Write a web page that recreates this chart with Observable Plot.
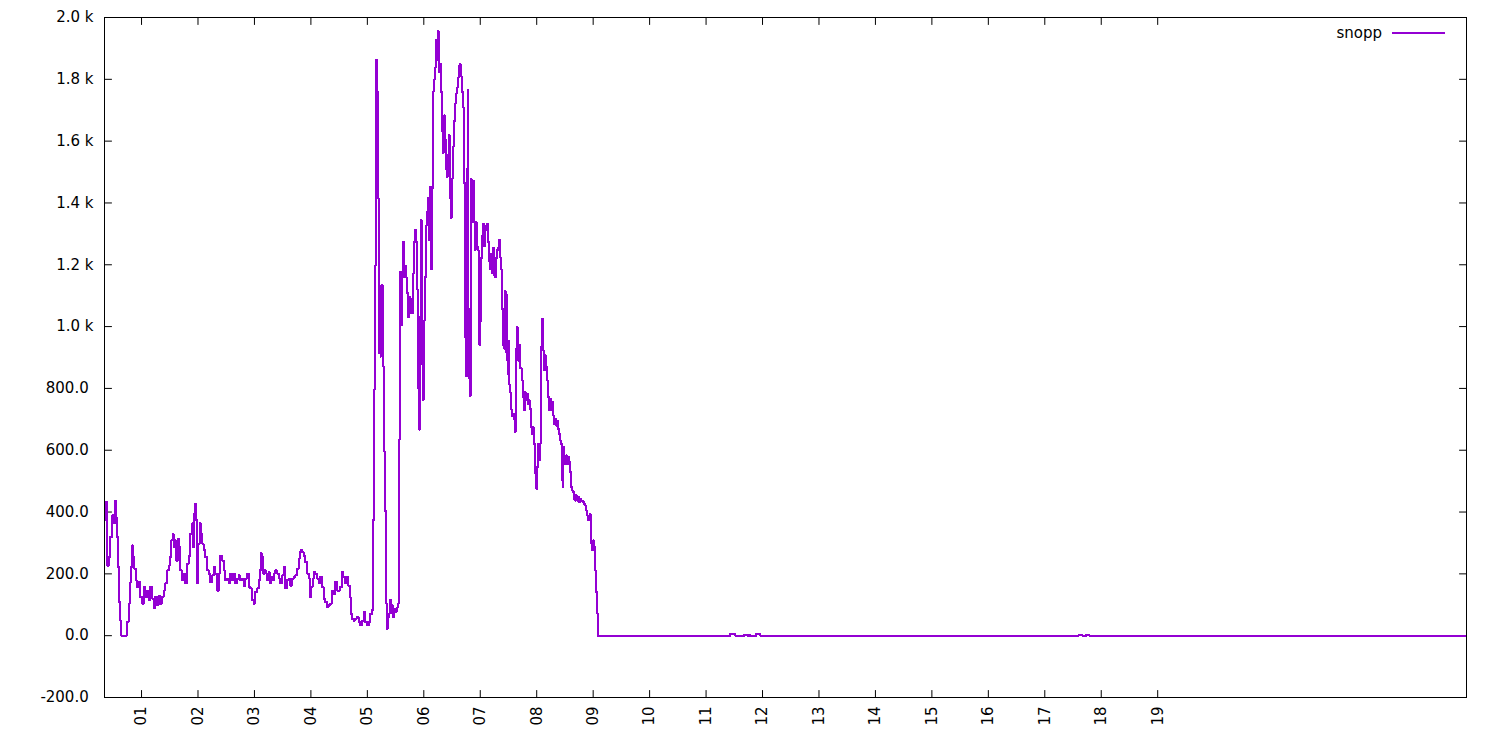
<!DOCTYPE html>
<html>
<head>
<meta charset="utf-8">
<script src="https://cdn.jsdelivr.net/npm/d3@7"></script>
<script src="https://cdn.jsdelivr.net/npm/@observablehq/plot@0.6"></script>
<style>
html, body { margin: 0; padding: 0; background: #fff; }
#chart svg { display: block; }
</style>
</head>
<body>
<div id="chart"></div>
<script>
const seriesName = "snopp";

const hours = [
  0.344,0.356,0.386,0.415,0.445,0.474,0.504,0.533,0.551,0.563,
  0.581,0.604,0.622,0.645,0.740,0.770,0.787,0.805,0.829,0.846,
  0.870,0.894,0.917,0.947,0.976,1.006,1.035,1.065,1.094,1.124,
  1.153,1.183,1.212,1.242,1.272,1.301,1.331,1.360,1.390,1.419,
  1.449,1.478,1.508,1.526,1.549,1.567,1.596,1.614,1.638,1.661,
  1.685,1.715,1.744,1.774,1.803,1.833,1.862,1.892,1.909,1.927,
  1.951,1.968,1.986,2.004,2.027,2.051,2.075,2.098,2.128,2.158,
  2.187,2.217,2.246,2.276,2.305,2.335,2.364,2.394,2.423,2.453,
  2.482,2.512,2.541,2.571,2.600,2.630,2.659,2.689,2.718,2.748,
  2.778,2.807,2.837,2.866,2.896,2.925,2.955,2.984,3.014,3.043,
  3.073,3.091,3.108,3.132,3.156,3.179,3.203,3.227,3.250,3.274,
  3.297,3.321,3.345,3.368,3.398,3.427,3.457,3.486,3.516,3.545,
  3.575,3.604,3.634,3.664,3.693,3.723,3.752,3.782,3.799,3.823,
  3.847,3.870,3.900,3.929,3.959,3.982,4.006,4.030,4.053,4.077,
  4.106,4.136,4.165,4.195,4.224,4.254,4.284,4.313,4.343,4.372,
  4.402,4.431,4.461,4.490,4.520,4.549,4.573,4.597,4.626,4.656,
  4.685,4.703,4.727,4.756,4.786,4.815,4.845,4.874,4.904,4.933,
  4.963,4.992,5.022,5.051,5.081,5.093,5.111,5.128,5.146,5.158,
  5.175,5.187,5.199,5.217,5.234,5.246,5.264,5.276,5.294,5.311,
  5.329,5.341,5.358,5.382,5.400,5.418,5.435,5.453,5.471,5.494,
  5.524,5.548,5.559,5.571,5.583,5.601,5.618,5.636,5.648,5.666,
  5.683,5.701,5.719,5.737,5.754,5.772,5.790,5.807,5.825,5.843,
  5.861,5.878,5.890,5.908,5.925,5.943,5.961,5.979,5.996,6.014,
  6.032,6.049,6.067,6.085,6.103,6.120,6.132,6.144,6.156,6.174,
  6.191,6.209,6.227,6.244,6.262,6.274,6.286,6.298,6.315,6.333,
  6.351,6.368,6.386,6.404,6.422,6.439,6.457,6.475,6.492,6.510,
  6.528,6.546,6.563,6.581,6.599,6.616,6.634,6.652,6.670,6.687,
  6.705,6.723,6.740,6.758,6.776,6.788,6.800,6.811,6.829,6.847,
  6.865,6.882,6.900,6.918,6.935,6.953,6.971,6.983,7.000,7.018,
  7.036,7.054,7.071,7.089,7.107,7.124,7.142,7.160,7.177,7.195,
  7.213,7.231,7.248,7.266,7.284,7.301,7.319,7.337,7.355,7.372,
  7.384,7.402,7.420,7.437,7.455,7.467,7.479,7.491,7.502,7.514,
  7.526,7.538,7.550,7.561,7.579,7.597,7.615,7.626,7.638,7.650,
  7.662,7.674,7.691,7.709,7.733,7.750,7.768,7.786,7.803,7.821,
  7.839,7.857,7.874,7.892,7.910,7.927,7.945,7.963,7.975,7.993,
  8.004,8.022,8.040,8.058,8.069,8.081,8.093,8.105,8.117,8.128,
  8.146,8.164,8.182,8.199,8.217,8.235,8.252,8.270,8.288,8.306,
  8.323,8.341,8.359,8.376,8.394,8.412,8.430,8.441,8.459,8.471,
  8.483,8.500,8.518,8.536,8.554,8.571,8.589,8.607,8.624,8.642,
  8.660,8.678,8.695,8.713,8.731,8.749,8.766,8.784,8.802,8.819,
  8.837,8.855,8.873,8.890,8.908,8.926,8.943,8.955,8.967,8.985,
  9.002,9.020,9.038,9.056,9.073,9.085,11.430,11.518,11.678,11.731,
  11.766,11.784,11.891,11.961,17.596,17.667,17.737,17.791,24.470
];

const snopp = [
  373,432,227,254,319,389,363,437,380,319,
  222,108,49,0,44,104,169,222,292,254,
  217,179,157,173,125,104,157,125,146,114,
  157,120,88,125,98,130,104,125,146,169,
  211,227,254,308,330,286,308,243,314,286,
  211,179,201,169,233,259,330,363,286,395,
  427,373,169,298,363,330,298,276,254,211,
  201,173,195,222,201,146,201,259,243,211,
  179,185,169,201,179,201,169,185,195,179,
  185,162,185,201,157,153,114,104,141,153,
  179,211,266,254,201,211,201,179,205,169,
  189,179,201,211,201,185,169,195,222,153,
  179,185,162,185,189,195,217,249,270,276,
  270,259,238,201,185,125,157,185,205,201,
  185,169,189,157,120,108,92,98,104,146,
  136,173,146,146,157,205,189,169,189,162,
  125,71,55,49,55,60,44,33,49,76,
  44,33,44,71,82,373,795,1197,1530,1862,
  1760,1415,916,1044,903,1133,1133,871,596,404,
  104,21,59,72,117,72,98,59,85,78,
  91,104,635,1031,1178,1006,1159,1274,1159,1197,
  1159,1108,1031,1095,1044,1089,1044,1172,1274,1312,
  1274,1121,801,667,1031,1344,878,763,1018,1159,
  1325,1370,1415,1281,1453,1325,1185,1447,1760,1798,
  1837,1926,1862,1955,1888,1824,1850,1760,1632,1562,
  1683,1606,1510,1485,1555,1619,1415,1351,1478,1581,
  1664,1721,1753,1773,1805,1843,1850,1811,1760,1709,
  1466,967,839,1510,1766,1057,833,775,1478,1338,
  1472,1338,1248,1338,1261,1248,1108,941,1018,1223,
  1293,1332,1261,1325,1312,1332,1274,1210,1185,1236,
  1172,1255,1165,1159,1223,1248,1255,1280,1223,1185,
  1057,941,929,1114,916,1101,890,846,954,813,
  788,756,731,711,718,699,660,826,929,999,
  916,890,941,865,826,772,729,788,761,783,
  750,761,734,675,653,675,621,610,524,475,
  545,621,567,621,761,934,1025,977,923,858,
  907,869,826,772,729,766,729,756,712,685,
  702,680,696,669,653,632,621,502,481,610,
  578,556,583,556,578,561,529,481,470,464,
  443,437,454,437,448,432,443,437,437,432,
  427,421,405,389,373,383,394,351,297,276,
  308,287,211,141,71,0,6,0,3,0,
  3,0,6,0,3,0,3,0,0
];

const xTicks = [1,2,3,4,5,6,7,8,9,10,11,12,13,14,15,16,17,18,19];
const xTickLabels = ["01","02","03","04","05","06","07","08","09","10","11","12","13","14","15","16","17","18","19"];
const yTicks = [-200,0,200,400,600,800,1000,1200,1400,1600,1800,2000];
const xDomain = [0.344, 24.47];
const yDomain = [-200, 2000];

const lineColor = "#9400d3";
const data = hours.map((h, i) => ({hour: h, value: snopp[i]}));

const fmtY = v => v >= 1000 ? (v / 1000).toFixed(1) + " k" : v.toFixed(1) + "\u00a0";
const fmtX = d => xTickLabels[xTicks.indexOf(d)];

const tickShape = { draw(context, l) { context.moveTo(0, 0); context.lineTo(0, -l); } };
const tickOpts = {length: 7, anchor: "start", shape: tickShape, stroke: "#000", strokeWidth: 1};

const chart = Plot.plot({
  width: 1500,
  height: 750,
  marginLeft: 104,
  marginRight: 34,
  marginTop: 17,
  marginBottom: 53,
  style: {fontFamily: "'DejaVu Sans', sans-serif", fontSize: "15px", color: "#000", background: "#fff", overflow: "visible"},
  x: {domain: xDomain, label: null},
  y: {domain: yDomain, label: null},
  marks: [
    Plot.axisY(yTicks, {tickSize: 0, tickPadding: 11, tickFormat: fmtY, fontSize: 15, label: null}),
    Plot.axisX(xTicks, {tickSize: 0, tickPadding: 9, tickRotate: -90, tickFormat: fmtX, fontSize: 15, label: null}),
    Plot.vector(yTicks, {y: d => d, frameAnchor: "left", rotate: 90, ...tickOpts}),
    Plot.vector(yTicks, {y: d => d, frameAnchor: "right", rotate: -90, ...tickOpts}),
    Plot.vector(xTicks, {x: d => d, frameAnchor: "bottom", rotate: 0, ...tickOpts}),
    Plot.vector(xTicks, {x: d => d, frameAnchor: "top", rotate: 180, ...tickOpts}),
    Plot.line(data, {x: "hour", y: "value", curve: "step-after", stroke: lineColor, strokeWidth: 2, shapeRendering: "crispEdges"}),
    Plot.frame({stroke: "#000", strokeWidth: 1})
  ]
});

// legend (gnuplot-style key inside the top-right corner)
const svg = d3.select(chart);
const legend = svg.append("g").attr("font-family", "'DejaVu Sans', sans-serif").attr("font-size", 15);
legend.append("text").attr("x", 1382).attr("y", 33).attr("dy", "0.35em").attr("text-anchor", "end").attr("fill", "#000").text(seriesName);
legend.append("line").attr("x1", 1392).attr("x2", 1445).attr("y1", 33).attr("y2", 33).attr("stroke", lineColor).attr("stroke-width", 2).attr("shape-rendering", "crispEdges");

document.getElementById("chart").appendChild(chart);
</script>
</body>
</html>
